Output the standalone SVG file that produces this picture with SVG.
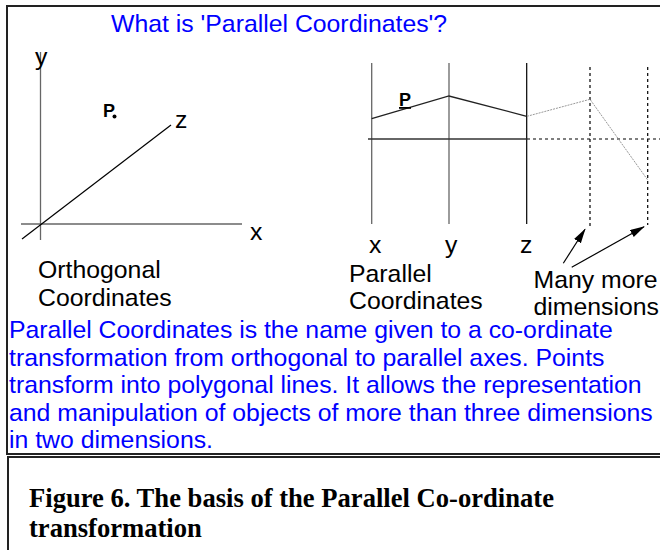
<svg xmlns="http://www.w3.org/2000/svg" width="660" height="550" viewBox="0 0 660 550">
<style>
.lbl{font-family:"Liberation Sans",Arial,sans-serif;font-size:24.8px;fill:#000}
.blue{font-family:"Liberation Sans",Arial,sans-serif;font-size:24.8px;fill:#0000ff}
.pb{font-family:"Liberation Sans",Arial,sans-serif;font-size:18px;font-weight:bold;fill:#000}
.cap{font-family:"Liberation Serif","Times New Roman",serif;font-size:26.6px;font-weight:bold;fill:#000}
.frame{stroke:#222;stroke-width:2;fill:none}
.gax{stroke:#666;stroke-width:1.3;fill:none}
.bax{stroke:#000;stroke-width:1.2;fill:none}
.dash{stroke:#000;stroke-width:1.2;stroke-dasharray:3 3;fill:none}
.dot{stroke:#999;stroke-width:1;stroke-dasharray:2 1;fill:none}
</style>
<defs>
<marker id="ah" markerWidth="15" markerHeight="9" refX="14" refY="4" orient="auto" markerUnits="userSpaceOnUse">
<path d="M0,0 L15,4 L0,8 Z" fill="#000"/>
</marker>
</defs>
<rect width="660" height="550" fill="#fff"/>
<g id="frame">
<path class="frame" d="M7,454 V6 H660"/>
<path class="frame" d="M6,454 H660"/>
<path class="frame" d="M8,550 V457 H660"/>
</g>
<g id="title"><text class="blue" x="111" y="32">What is 'Parallel Coordinates'?</text></g>
<g id="orthogonal">
<line class="gax" x1="40.5" y1="52" x2="40.5" y2="240"/>
<line class="gax" x1="21" y1="224" x2="242" y2="224"/>
<line class="bax" x1="22" y1="239" x2="171" y2="125"/>
<text class="lbl" x="35" y="65">y</text>
<text class="lbl" x="250" y="240">x</text>
<text class="lbl" x="175" y="128">z</text>
<text class="pb" x="103" y="117">P</text>
<circle cx="114.5" cy="116.5" r="2" fill="#000"/>
<text class="lbl" x="38" y="278">Orthogonal</text>
<text class="lbl" x="38" y="306">Coordinates</text>
</g>
<g id="parallel">
<line class="gax" x1="371.7" y1="63" x2="371.7" y2="224"/>
<line class="gax" x1="449" y1="63" x2="449" y2="224"/>
<line class="bax" x1="526.7" y1="63" x2="526.7" y2="224"/>
<line class="dash" x1="590" y1="67" x2="590" y2="227"/>
<line class="dash" x1="647.7" y1="67" x2="647.7" y2="225"/>
<line stroke="#333" stroke-width="1.3" x1="368" y1="139" x2="526.7" y2="139"/>
<line class="dash" x1="527" y1="139" x2="660" y2="139"/>
<polyline stroke="#222" stroke-width="1.3" fill="none" points="371.7,118.7 449,96 526.7,116.3"/>
<polyline class="dot" points="527,116.3 590,99.3 647.7,180"/>
<text class="pb" x="399" y="106" text-decoration="underline">P</text>
<text class="lbl" x="369" y="253">x</text>
<text class="lbl" x="445" y="253">y</text>
<text class="lbl" x="520" y="253">z</text>
<text class="lbl" x="349" y="282">Parallel</text>
<text class="lbl" x="349" y="309">Coordinates</text>
</g>
<g id="more">
<text class="lbl" x="533.5" y="288">Many more</text>
<text class="lbl" x="533.5" y="315">dimensions</text>
</g>
<g id="connectors">
<line stroke="#000" stroke-width="1.2" x1="563.3" y1="263.3" x2="585" y2="229.3" marker-end="url(#ah)"/>
<line stroke="#000" stroke-width="1.2" x1="571.7" y1="267.3" x2="644" y2="226.7" marker-end="url(#ah)"/>
</g>
<g id="description">
<text class="blue" x="9" y="338">Parallel Coordinates is the name given to a co-ordinate</text>
<text class="blue" x="9" y="366">transformation from orthogonal to parallel axes. Points</text>
<text class="blue" x="9" y="393">transform into polygonal lines. It allows the representation</text>
<text class="blue" x="9" y="421">and manipulation of objects of more than three dimensions</text>
<text class="blue" x="9" y="448">in two dimensions.</text>
</g>
<g id="caption">
<text class="cap" x="29" y="507">Figure 6. The basis of the Parallel Co-ordinate</text>
<text class="cap" x="29" y="537">transformation</text>
</g>
</svg>
